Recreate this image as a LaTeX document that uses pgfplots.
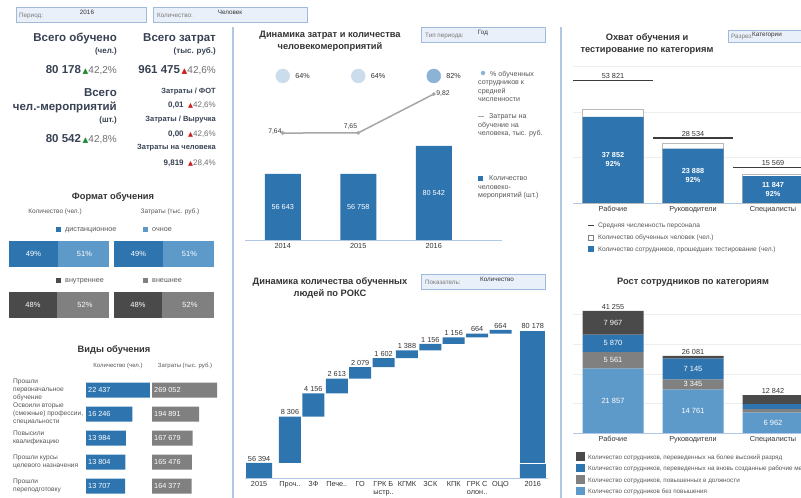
\documentclass[border=0pt]{standalone}
\usepackage{pgfplots}
\pgfplotsset{compat=1.18}
\usepackage{fontspec}
\setmainfont{Liberation Sans}
\newfontfamily\dejavu{DejaVu Sans}
\definecolor{cBlue}{RGB}{46,117,176}
\definecolor{cLight}{RGB}{94,154,201}
\definecolor{cDark}{RGB}{74,74,74}
\definecolor{cGray}{RGB}{128,128,128}
\definecolor{cSep}{RGB}{176,200,230}
\definecolor{cBoxF}{RGB}{234,240,249}
\definecolor{cBoxD}{RGB}{160,186,220}
\definecolor{cBoxT}{RGB}{120,120,120}
\definecolor{cTxt}{RGB}{51,51,51}
\definecolor{cLeg}{RGB}{85,85,85}
\definecolor{cKpi}{RGB}{55,65,82}
\definecolor{cGreen}{RGB}{30,140,50}
\definecolor{cRed}{RGB}{205,30,30}
\definecolor{cPct}{RGB}{110,110,110}
\definecolor{cCircL}{RGB}{203,221,236}
\definecolor{cCircM}{RGB}{140,178,214}
\definecolor{cLine}{RGB}{166,166,166}
\definecolor{cGrid}{RGB}{238,238,238}
\definecolor{cAvg}{RGB}{60,60,60}
\newcommand{\fz}[2]{\fontsize{#1}{#2}\selectfont}
\newcommand{\kpi}[3]{{\bfseries\fz{11.5}{13}\color{cKpi}#1}\,{\dejavu\fz{7.5}{9}\color{#2}▲}{\fz{10}{12}\color{cPct}#3}}
\newcommand{\kpis}[3]{{\bfseries\fz{8}{9}\color{cKpi}#1}\ \,{\dejavu\fz{6.5}{8}\color{#2}▲}{\fz{8}{9}\color{cPct}#3}}
\newcommand{\ttl}{\bfseries\fz{9.3}{11.5}}
\pgfplotsset{base/.style={scale only axis, anchor=south west, clip=false, scaled y ticks=false, scaled x ticks=false,
  reverse stacked plots=false,
  /pgf/number format/assume math mode=true,
  ticklabel style={font=\fz{7.3}{8.5}, text=cTxt}}}
\begin{document}
\begin{tikzpicture}[x=1pt,y=1pt]
% ---------- filter boxes ----------
\tikzset{fbox/.style={fill=cBoxF, draw=cBoxD, line width=0.6pt},
  fl/.style={anchor=base west, font=\fz{6.3}{7}, text=cBoxT, inner sep=0},
  fv/.style={anchor=base, font=\fz{6.3}{7}, text=cTxt, inner sep=0},
  vl/.style={anchor=west, text=white, font=\fz{7.3}{8}, inner sep=0, xshift=2pt},
  wl/.style={text=white, font=\fz{7.5}{8}}}
\filldraw[fbox] (16,476) rectangle (146,491);
\node[fl] at (19,480) {Период:};
\node[fv] at (87,483) {2016};
\filldraw[fbox] (153,476) rectangle (307,491);
\node[fl] at (157,480) {Количество:};
\node[fv] at (230,483) {Человек};
\filldraw[fbox] (421,456) rectangle (545,471);
\node[fl] at (425,460) {Тип периода:};
\node[fv] at (483,463) {Год};
\filldraw[fbox] (421,209) rectangle (545,224);
\node[fl] at (425,213) {Показатель:};
\node[fv] at (497,216) {Количество};
\filldraw[fbox] (728,456) rectangle (812,468);
\node[fl] at (731,459) {Разрез:};
\node[anchor=base west, font=\fz{6.3}{7}, text=cTxt, inner sep=0] at (752,461) {Категории};
% separators
\draw[cSep, line width=1.2pt] (233,0) -- (233,471);
\draw[cSep, line width=1.2pt] (561,0) -- (561,471);
% ---------- KPI block ----------
\tikzset{kr/.style={anchor=base east, inner sep=0}}
\node[kr, text=cKpi, font=\bfseries\fz{11.5}{13}] at (117,456) {Всего обучено};
\node[kr, text=cKpi, font=\bfseries\fz{8}{9}] at (117,444) {(чел.)};
\node[kr] at (117,424) {\kpi{80 178}{cGreen}{42,2\%}};
\node[kr, text=cKpi, font=\bfseries\fz{11.5}{13}] at (117,401) {Всего};
\node[kr, text=cKpi, font=\bfseries\fz{11.5}{13}] at (117,387) {чел.-мероприятий};
\node[kr, text=cKpi, font=\bfseries\fz{8}{9}] at (117,375) {(шт.)};
\node[kr] at (117,355) {\kpi{80 542}{cGreen}{42,8\%}};
\node[kr, text=cKpi, font=\bfseries\fz{11.5}{13}] at (216,456) {Всего затрат};
\node[kr, text=cKpi, font=\bfseries\fz{8}{9}] at (216,444) {(тыс. руб.)};
\node[kr] at (216,424) {\kpi{961 475}{cRed}{42,6\%}};
\node[kr, text=cKpi, font=\bfseries\fz{7.5}{9}] at (216,404) {Затраты / ФОТ};
\node[kr] at (216,390) {\kpis{0,01}{cRed}{42,6\%}};
\node[kr, text=cKpi, font=\bfseries\fz{7.5}{9}] at (216,376) {Затраты / Выручка};
\node[kr] at (216,361) {\kpis{0,00}{cRed}{42,6\%}};
\node[kr, text=cKpi, font=\bfseries\fz{7.5}{9}] at (216,348) {Затраты на человека};
\node[kr] at (216,332) {\kpis{9,819}{cRed}{28,4\%}};
% ---------- Формат обучения ----------
\node[anchor=base, font=\ttl, text=cTxt] at (113,298) {Формат обучения};
\node[anchor=base, font=\fz{6.5}{8}, text=cLeg] at (55,284) {Количество (чел.)};
\node[anchor=base, font=\fz{6.5}{8}, text=cLeg] at (170,284) {Затраты (тыс. руб.)};
\node[anchor=base west, font=\fz{7.2}{8}, text=cLeg, inner sep=0] at (56,266) {{\color{cBlue}\rule{5pt}{5pt}}\hspace{4pt}дистанционное};
\node[anchor=base west, font=\fz{7.2}{8}, text=cLeg, inner sep=0] at (143,266) {{\color{cLight}\rule{5pt}{5pt}}\hspace{4pt}очное};
\node[anchor=base west, font=\fz{7.2}{8}, text=cLeg, inner sep=0] at (56,215) {{\color{cDark}\rule{5pt}{5pt}}\hspace{4pt}внутреннее};
\node[anchor=base west, font=\fz{7.2}{8}, text=cLeg, inner sep=0] at (143,215) {{\color{cGray}\rule{5pt}{5pt}}\hspace{4pt}внешнее};
\pgfplotsset{fmt/.style={base, width=100pt, height=26pt, hide axis, xbar stacked, bar width=26pt, xmin=0, xmax=100, ymin=-0.5, ymax=0.5}}
\begin{axis}[fmt, at={(9pt,231pt)}]
\addplot[fill=cBlue, draw=none] coordinates {(49,0)};
\addplot[fill=cLight, draw=none] coordinates {(51,0)};
\end{axis}
\begin{axis}[fmt, at={(114pt,231pt)}]
\addplot[fill=cBlue, draw=none] coordinates {(49,0)};
\addplot[fill=cLight, draw=none] coordinates {(51,0)};
\end{axis}
\begin{axis}[fmt, at={(9pt,180pt)}]
\addplot[fill=cDark, draw=none] coordinates {(48,0)};
\addplot[fill=cGray, draw=none] coordinates {(52,0)};
\end{axis}
\begin{axis}[fmt, at={(114pt,180pt)}]
\addplot[fill=cDark, draw=none] coordinates {(48,0)};
\addplot[fill=cGray, draw=none] coordinates {(52,0)};
\end{axis}
\node[wl] at (33.5,244) {49\%};
\node[wl] at (84.5,244) {51\%};
\node[wl] at (138.5,244) {49\%};
\node[wl] at (189.5,244) {51\%};
\node[wl] at (33,193) {48\%};
\node[wl] at (85,193) {52\%};
\node[wl] at (138,193) {48\%};
\node[wl] at (190,193) {52\%};
% ---------- Виды обучения ----------
\node[anchor=base, font=\ttl, text=cTxt] at (114,145) {Виды обучения};
\node[anchor=base, font=\fz{6}{7}, text=cLeg] at (118,130) {Количество (чел.)};
\node[anchor=base, font=\fz{6}{7}, text=cLeg] at (185,130) {Затраты (тыс. руб.)};
\tikzset{rl/.style={anchor=west, align=left, font=\fz{6.6}{7.8}, text=cLeg, inner sep=0}}
\node[rl] at (13,108) {Прошли\\первоначальное\\обучение};
\node[rl] at (13,84) {Освоили вторые\\(смежные) профессии,\\специальности};
\node[rl] at (13,60) {Повысили\\квалификацию};
\node[rl] at (13,36) {Прошли курсы\\целевого назначения};
\node[rl] at (13,12) {Прошли\\переподготовку};
\pgfplotsset{vid/.style={base, width=70pt, height=120pt, hide axis, xbar, bar width=15pt, bar shift=0pt, xmin=0, ymin=-0.5, ymax=4.5, y dir=reverse}}
\begin{axis}[vid, at={(86pt,0pt)}, xmax=24541]
\addplot[fill=cBlue, draw=none] coordinates {(22437,0) (16246,1) (13984,2) (13804,3) (13707,4)};
\node[vl] at (axis cs:0,0) {22 437};
\node[vl] at (axis cs:0,1) {16 246};
\node[vl] at (axis cs:0,2) {13 984};
\node[vl] at (axis cs:0,3) {13 804};
\node[vl] at (axis cs:0,4) {13 707};
\end{axis}
\begin{axis}[vid, at={(152pt,0pt)}, xmax=289750]
\addplot[fill=cGray, draw=none] coordinates {(269052,0) (194891,1) (167679,2) (165476,3) (164377,4)};
\node[vl] at (axis cs:0,0) {269 052};
\node[vl] at (axis cs:0,1) {194 891};
\node[vl] at (axis cs:0,2) {167 679};
\node[vl] at (axis cs:0,3) {165 476};
\node[vl] at (axis cs:0,4) {164 377};
\end{axis}
% ---------- Динамика затрат ----------
\node[anchor=base, font=\ttl, text=cTxt, align=center] at (330,460) {Динамика затрат и количества};
\node[anchor=base, font=\ttl, text=cTxt] at (330,448) {человекомероприятий};
\begin{axis}[base, at={(245pt,258pt)}, width=256.7pt, height=213pt, xmin=-0.5, xmax=2.9, ymin=0, ymax=182500,
  axis x line*=bottom, hide y axis, x axis line style={cSep, line width=0.8pt},
  xtick={0,1,2}, xticklabels={2014,2015,2016}, major tick length=0pt]
\addplot[ybar, bar width=36pt, bar shift=0pt, fill=cBlue, draw=none] coordinates {(0,56643) (1,56758) (2,80542)};
\node[text=white, font=\fz{7.3}{8}] at (axis cs:0,28321) {56 643};
\node[text=white, font=\fz{7.3}{8}] at (axis cs:1,28379) {56 758};
\node[text=white, font=\fz{7.3}{8}] at (axis cs:2,40271) {80 542};
\end{axis}
\begin{axis}[base, at={(245pt,258pt)}, width=256.7pt, height=213pt, xmin=-0.5, xmax=2.9, ymin=1.66, ymax=13.57, hide axis]
\addplot[cLine, line width=1.5pt, mark=*, mark size=1pt, mark options={fill=cLine}] coordinates {(0,7.64) (1,7.65) (2,9.82)};
\node[anchor=east, font=\fz{6.8}{8}, text=cTxt, inner sep=1pt] at (axis cs:0,7.74) {7,64};
\node[anchor=south east, font=\fz{6.8}{8}, text=cTxt, inner sep=1pt] at (axis cs:1,7.78) {7,65};
\node[anchor=west, font=\fz{6.8}{8}, text=cTxt, inner sep=1pt] at (axis cs:2.02,9.82) {9,82};
\end{axis}
\begin{axis}[base, at={(245pt,412pt)}, width=256.7pt, height=20pt, xmin=-0.5, xmax=2.9, ymin=-1, ymax=1, hide axis,
  nodes near coords, point meta=explicit symbolic,
  every node near coord/.append style={anchor=west, xshift=9pt, yshift=0pt, font=\fz{7.2}{8}, text=cTxt}]
\addplot[only marks, mark=*, mark size=7pt, color=cCircL, mark options={fill=cCircL, draw=cCircL}] coordinates {(0,0) [64\%] (1,0) [64\%]};
\addplot[only marks, mark=*, mark size=7pt, color=cCircM, mark options={fill=cCircM, draw=cCircM}] coordinates {(2,0) [82\%]};
\end{axis}
% legend middle top
\tikzset{ml/.style={anchor=base west, align=left, font=\fz{7.1}{8.6}, text=cLeg, inner sep=0}}
\node[circle, fill=cCircM, inner sep=0pt, minimum size=4.5pt] at (483,425) {};
\node[ml] at (478,396) {\hspace*{12pt}\% обученных\\сотрудников к\\средней\\численности};
\node[ml] at (478,362) {{\color{cLine}\rule[2pt]{6pt}{1.2pt}}\hspace*{5pt}Затраты на\\обучение на\\человека, тыс. руб.};
\node[ml] at (478,300) {{\color{cBlue}\rule{5pt}{5pt}}\hspace*{6pt}Количество\\человеко-\\мероприятий (шт.)};
% ---------- Waterfall ----------
\node[anchor=base, font=\ttl, text=cTxt] at (330,213) {Динамика количества обученных};
\node[anchor=base, font=\ttl, text=cTxt] at (330,201) {людей по РОКС};
\pgfplotsset{wf/.style={base, at={(245pt,20pt)}, width=303pt, height=158pt, xmin=-0.923, xmax=12.03, ymin=53712, ymax=81962}}
\begin{axis}[wf, clip=true, ybar stacked, axis x line*=bottom, hide y axis, x axis line style={cSep, line width=0.8pt},
  xtick={-0.32,1,2,3,4,5,6,7,8,9,10,11.38},
  xticklabels={2015,Проч..,ЗФ,Пече..,ГО,{ГРК Б\\ыстр..},КГМК,ЗСК,КПК,{ГРК С\\олон..},ОЦО,2016},
  xticklabel style={align=left, font=\fz{7.3}{8.3}}, major tick length=0pt]
\addplot[draw=none, fill=none, bar width=22pt] coordinates {(-0.32,0) (1,56394) (2,64700) (3,68856) (4,71469) (5,73548) (6,75150) (7,76538) (8,77694) (9,78850) (10,79514) (11.38,0)};
\addplot[fill=cBlue, draw=none, bar width=22pt] coordinates {(-0.32,0) (1,8306) (2,4156) (3,2613) (4,2079) (5,1602) (6,1388) (7,1156) (8,1156) (9,664) (10,664) (11.38,0)};
\addplot[fill=cBlue, draw=none, bar width=26pt] coordinates {(-0.32,56394) (1,0) (2,0) (3,0) (4,0) (5,0) (6,0) (7,0) (8,0) (9,0) (10,0) (11.38,56394)};
\addplot[fill=cBlue, draw=white, line width=0.8pt, bar width=26pt] coordinates {(-0.32,0) (1,0) (2,0) (3,0) (4,0) (5,0) (6,0) (7,0) (8,0) (9,0) (10,0) (11.38,23784)};
\end{axis}
\begin{axis}[wf, hide axis, nodes near coords, point meta=explicit symbolic,
  every node near coord/.append style={anchor=south, font=\fz{7.3}{8}, text=cTxt, inner sep=1.5pt}]
\addplot[draw=none, mark=none] coordinates {(-0.32,56394) [56 394] (1,64700) [8 306] (2,68856) [4 156] (3,71469) [2 613] (4,73548) [2 079] (5,75150) [1 602] (6,76538) [1 388] (7,77694) [1 156] (8,78850) [1 156] (9,79514) [664] (10,80178) [664] (11.38,80178) [80 178]};
\end{axis}
% ---------- Охват обучения ----------
\node[anchor=base, font=\ttl, text=cTxt] at (647,457) {Охват обучения и};
\node[anchor=base, font=\ttl, text=cTxt] at (647,445) {тестирование по категориям};
\begin{axis}[base, at={(573pt,295pt)}, width=240pt, height=153pt, xmin=-0.5, xmax=2.5, ymin=0, ymax=67320,
  axis x line*=bottom, axis y line*=left, x axis line style={cSep, line width=0.8pt}, y axis line style={draw=none},
  xtick={0,1,2}, xticklabels={Рабочие,Руководители,Специалисты}, ytick={20000,40000,60000}, yticklabels={},
  ymajorgrids, grid style={cGrid, line width=0.6pt}, major tick length=0pt]
\addplot[ybar, bar width=61pt, bar shift=0pt, fill=white, draw=gray!55, line width=0.6pt] coordinates {(0,41255) (1,26081) (2,12842)};
\addplot[ybar, bar width=61pt, bar shift=0pt, fill=cBlue, draw=none] coordinates {(0,37852) (1,23888) (2,11847)};
\addplot[cAvg, line width=1.6pt] coordinates {(-0.5,53821) (0.5,53821)};
\addplot[cAvg, line width=1.6pt] coordinates {(0.5,28534) (1.5,28534)};
\addplot[cAvg, line width=1.6pt] coordinates {(1.5,15569) (2.5,15569)};
\node[anchor=south, font=\fz{7.3}{8}, text=cTxt, inner sep=1.5pt] at (axis cs:0,53821) {53 821};
\node[anchor=south, font=\fz{7.3}{8}, text=cTxt, inner sep=1.5pt] at (axis cs:1,28534) {28 534};
\node[anchor=south, font=\fz{7.3}{8}, text=cTxt, inner sep=1.5pt] at (axis cs:2,15569) {15 569};
\node[align=center, text=white, font=\bfseries\fz{7.3}{9}] at (axis cs:0,18926) {37 852\\92\%};
\node[align=center, text=white, font=\bfseries\fz{7.3}{9}] at (axis cs:1,11944) {23 888\\92\%};
\node[align=center, text=white, font=\bfseries\fz{7.3}{9}] at (axis cs:2,5924) {11 847\\92\%};
\end{axis}
\tikzset{rl2/.style={anchor=base west, font=\fz{6.6}{8}, text=cLeg, inner sep=0}}
\node[rl2] at (588,270) {{\color{cAvg}\rule[2pt]{6pt}{1.2pt}}\hspace{4pt}Средняя численность персонала};
\node[rl2] at (588,258) {{\setlength\fboxsep{0pt}\setlength\fboxrule{0.5pt}\color{gray}\fbox{\color{white}\rule{4.5pt}{4.5pt}}}\hspace{4.5pt}Количество обученных человек (чел.)};
\node[rl2] at (588,246) {{\color{cBlue}\rule{5.5pt}{5.5pt}}\hspace{4.5pt}Количество сотрудников, прошедших тестирование (чел.)};
% ---------- Рост сотрудников ----------
\node[anchor=base, font=\ttl, text=cTxt] at (693,213) {Рост сотрудников по категориям};
\pgfplotsset{rb/.style={base, at={(573pt,65pt)}, width=240pt, height=133pt, xmin=-0.5, xmax=2.5, ymin=0, ymax=44954}}
\begin{axis}[rb, ybar stacked, bar width=61pt,
  axis x line*=bottom, axis y line*=left, x axis line style={cSep, line width=0.8pt}, y axis line style={draw=none},
  xtick={0,1,2}, xticklabels={Рабочие,Руководители,Специалисты}, ytick={10000,20000,30000,40000}, yticklabels={},
  ymajorgrids, grid style={cGrid, line width=0.6pt}, major tick length=0pt]
\addplot[fill=cLight, draw=none] coordinates {(0,21857) (1,14761) (2,6962)};
\addplot[fill=cGray, draw=none] coordinates {(0,5561) (1,3345) (2,1150)};
\addplot[fill=cBlue, draw=none] coordinates {(0,5870) (1,7145) (2,1690)};
\addplot[fill=cDark, draw=none] coordinates {(0,7967) (1,830) (2,3040)};
\end{axis}
\begin{axis}[rb, hide axis, nodes near coords, point meta=explicit symbolic,
  every node near coord/.append style={anchor=south, font=\fz{7.3}{8}, text=cTxt, inner sep=1.5pt}]
\addplot[draw=none, mark=none] coordinates {(0,41255) [41 255] (1,26081) [26 081] (2,12842) [12 842]};
\node[wl] at (axis cs:0,10928) {21 857};
\node[wl] at (axis cs:0,24637) {5 561};
\node[wl] at (axis cs:0,30353) {5 870};
\node[wl] at (axis cs:0,37271) {7 967};
\node[wl] at (axis cs:1,7380) {14 761};
\node[wl] at (axis cs:1,16433) {3 345};
\node[wl] at (axis cs:1,21678) {7 145};
\node[wl] at (axis cs:2,3481) {6 962};
\end{axis}
\tikzset{rl3/.style={anchor=base west, font=\fz{6.3}{7}, text=cLeg, inner sep=0}}
\node[rl3] at (576,38) {{\color{cDark}\rule[-1.5pt]{9pt}{9pt}}\hspace{3pt}Количество сотрудников, переведенных на более высокий разряд};
\node[rl3] at (576,27) {{\color{cBlue}\rule[-1.5pt]{9pt}{9pt}}\hspace{3pt}Количество сотрудников, переведенных на вновь созданные рабочие места};
\node[rl3] at (576,15) {{\color{cGray}\rule[-1.5pt]{9pt}{9pt}}\hspace{3pt}Количество сотрудников, повышенных в должности};
\node[rl3] at (576,4) {{\color{cLight}\rule[-1.5pt]{9pt}{9pt}}\hspace{3pt}Количество сотрудников без повышения};
\pgfresetboundingbox
\useasboundingbox (0,0) rectangle (801,498);
\end{tikzpicture}
\end{document}
